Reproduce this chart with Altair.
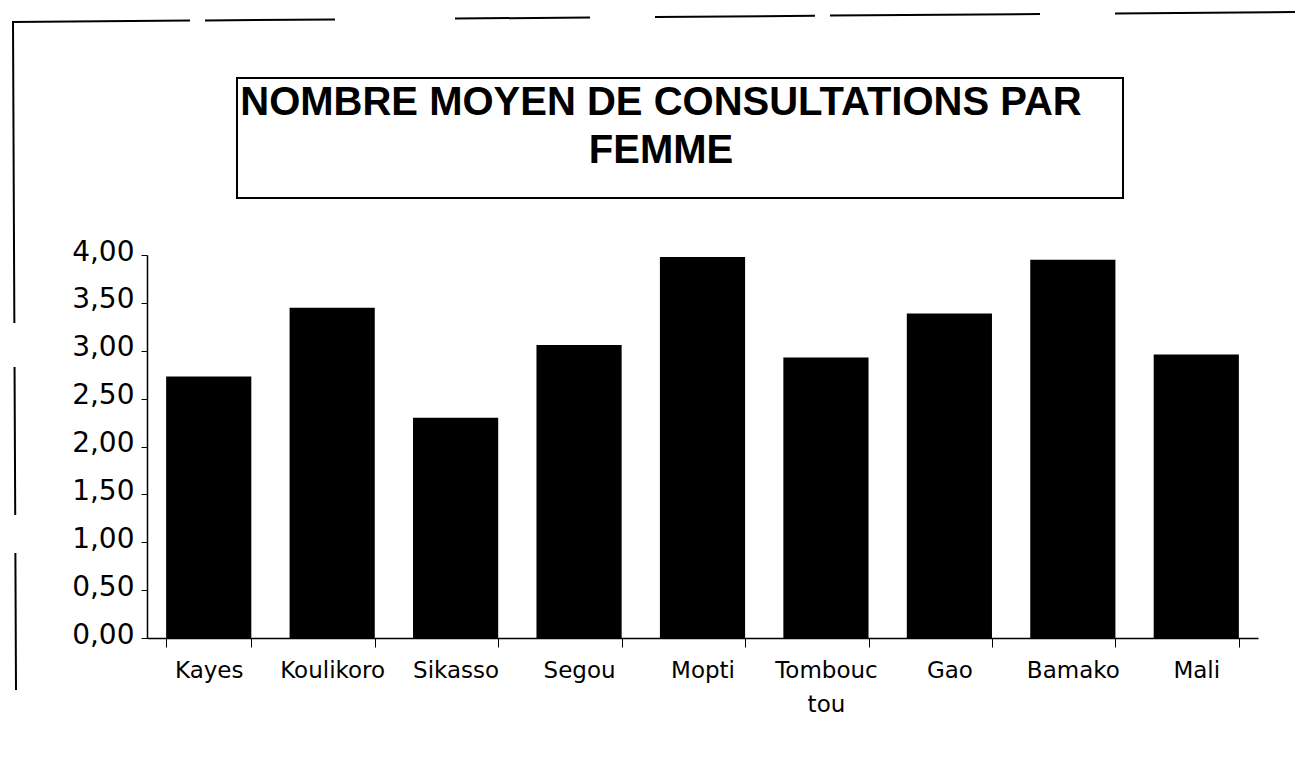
import altair as alt
import pandas as pd

# Data
regions = ["Kayes", "Koulikoro", "Sikasso", "Segou", "Mopti",
           "Tombouctou", "Gao", "Bamako", "Mali"]
consultations = [2.73, 3.45, 2.30, 3.06, 3.98, 2.93, 3.39, 3.95, 2.96]
y_ticks = [0, 0.5, 1.0, 1.5, 2.0, 2.5, 3.0, 3.5, 4.0]
title_lines = ["NOMBRE MOYEN DE CONSULTATIONS PAR", "FEMME"]

df = pd.DataFrame({"region": regions, "valeur": consultations})
one = pd.DataFrame({"k": [0]})

W, H = 1111, 383

bars = alt.Chart(df).mark_bar(color="black").encode(
    x=alt.X("region:N", sort=regions,
            scale=alt.Scale(paddingInner=0.31, paddingOuter=0.155),
            axis=alt.Axis(title=None, labelAngle=0, labelFont="DejaVu Sans",
                          labelFontSize=23, labelColor="black",
                          labelPadding=12, labelBaseline="top",
                          labelLineHeight=34,
                          labelExpr="datum.label == 'Tombouctou' ? ['Tombouc', 'tou'] : datum.label",
                          tickBand="extent", tickSize=9, tickColor="black",
                          domainColor="black", domainWidth=1.5, grid=False)),
    y=alt.Y("valeur:Q", scale=alt.Scale(domain=[0, 4], nice=False),
            axis=alt.Axis(title=None, values=y_ticks, labelFont="DejaVu Sans",
                          labelFontSize=28, labelColor="black",
                          labelPadding=7, labelOffset=-3,
                          labelExpr="replace(format(datum.value, '.2f'), '.', ',')",
                          tickSize=6, tickColor="black",
                          domainColor="black", domainWidth=1.5, grid=False)),
)

# Title inside its frame
title = alt.Chart(one).mark_text(font="Liberation Sans", fontSize=40, fontWeight="bold",
                                 color="black", align="center", baseline="alphabetic",
                                 lineHeight=48).encode(
    x=alt.value(514), y=alt.value(-140), text=alt.value(title_lines)
)
box = alt.Chart(one).mark_rect(fillOpacity=0, stroke="black", strokeWidth=2).encode(
    x=alt.value(90), x2=alt.value(976), y=alt.value(-177), y2=alt.value(-57)
)

# Fragments of the scanned page border
top_border = alt.Chart(one).mark_rule(color="black", strokeWidth=2,
                                      strokeDash=[178, 15, 130, 120, 135, 65, 160, 15, 210, 75, 180]).encode(
    x=alt.value(-135), x2=alt.value(1148), y=alt.value(-233), y2=alt.value(-243)
)
left_border = alt.Chart(one).mark_rule(color="black", strokeWidth=2,
                                       strokeDash=[301, 44, 148, 38, 137, 1000]).encode(
    x=alt.value(-134), x2=alt.value(-131), y=alt.value(-233), y2=alt.value(435)
)
bottom_line = alt.Chart(one).mark_rule(color="#cccccc", strokeWidth=2).encode(
    x=alt.value(983), x2=alt.value(1157), y=alt.value(485)
)

chart = alt.layer(bars, box, title, top_border, left_border, bottom_line).properties(
    width=W, height=H,
    padding={"left": 139, "top": 247, "right": 38, "bottom": 100},
    autosize=alt.AutoSizeParams(type="none"),
    view=alt.ViewBackground(stroke="transparent", strokeWidth=0),
).configure_view(stroke="transparent", strokeWidth=0).configure(background="white")

chart.save("out.html", embed_options={"renderer": "svg", "actions": False})
